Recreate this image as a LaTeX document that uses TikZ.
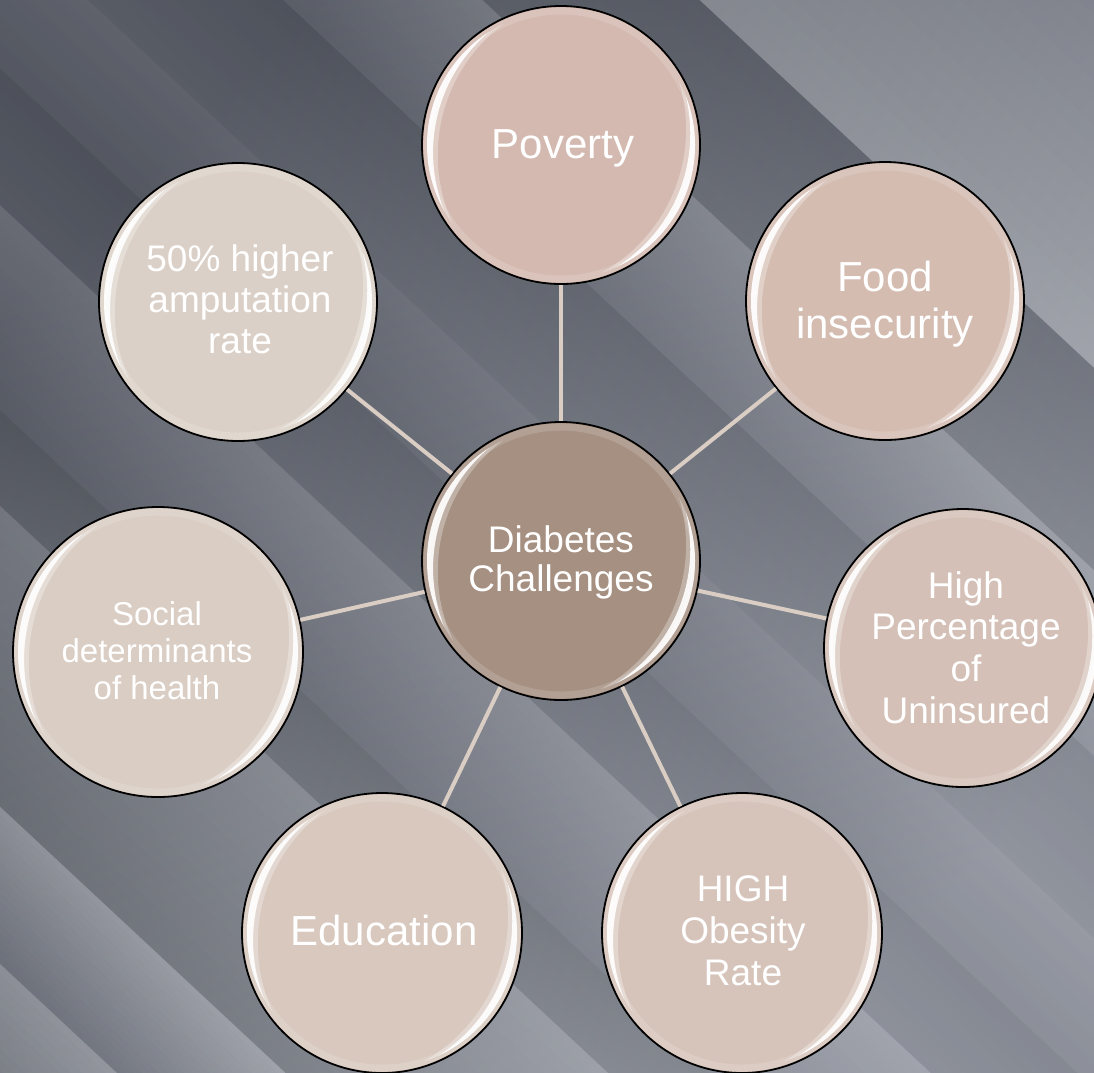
\documentclass[tikz,border=0pt]{standalone}
\usepackage{fontspec}
\setmainfont{Liberation Sans}
\usetikzlibrary{calc}
\definecolor{hubc}{HTML}{A69082}
\definecolor{povc}{HTML}{D3B9B0}
\definecolor{foodc}{HTML}{D4BCB1}
\definecolor{insc}{HTML}{D4C0B6}
\definecolor{obec}{HTML}{D6C4BA}
\definecolor{educ}{HTML}{D8C8BE}
\definecolor{socc}{HTML}{DACDC4}
\definecolor{ampc}{HTML}{DBD0C7}
\definecolor{connc}{HTML}{D9CDC4}
\newcommand\bgband[4]{%
  \foreach \k in {0,...,19}{%
    \pgfmathsetmacro\ua{#1+(#2-#1)*\k/20}%
    \pgfmathsetmacro\ub{#1+(#2-#1)*(\k+1)/20+1.5}%
    \pgfmathtruncatemacro\pc{100-\k*100/19}%
    \fill[#3!\pc!#4] (-40,\ua) rectangle (1600,\ub);
  }}
\newcommand\cres[6]{%
  \pgfmathsetmacro\crA{#2+1}\pgfmathsetmacro\crB{#2+#5}%
  \begin{scope}
    \clip (#1.center) circle (#2pt);
    \fill[white,opacity=#6,even odd rule] (#1.center) circle (\crA pt)
      ($(#1.center)+({#3+180}:#4pt)$) circle (\crB pt);
  \end{scope}}
\newcommand\glossy[2]{%
  \pgfmathsetmacro\gr{#2-5}%
  \draw[white,opacity=.15,line width=7pt] (#1.center) circle (\gr pt);
  \cres{#1}{\gr}{166}{42}{30}{.3}
  \cres{#1}{\gr}{166}{31}{24}{.9}
  \cres{#1}{\gr}{-22}{42}{30}{.3}
  \cres{#1}{\gr}{-22}{31}{24}{.9}}
\begin{document}
\begin{tikzpicture}[x=1pt,y=-1pt,
  bub/.style={circle,draw=black,line width=1.8pt,inner sep=0pt,minimum size=#1},
  conn/.style={draw=connc,line width=4pt},
  txt/.style={text=white,align=center,inner sep=0pt}]
\useasboundingbox (0,0) rectangle (1094,1072);
% background
\begin{scope}
\clip (0,0) rectangle (1094,1072);
\begin{scope}[rotate=-43]
\definecolor{b1a}{HTML}{7E828E}\definecolor{b1b}{HTML}{989CA6}
\definecolor{b2a}{HTML}{5E636F}\definecolor{b2b}{HTML}{6C717C}
\definecolor{b3a}{HTML}{8C909B}\definecolor{b3b}{HTML}{747985}
\definecolor{b4a}{HTML}{656A76}\definecolor{b4b}{HTML}{717682}
\definecolor{b5a}{HTML}{7A7E8A}\definecolor{b5b}{HTML}{6C717D}
\definecolor{b6a}{HTML}{636874}\definecolor{b6b}{HTML}{6D727E}
\definecolor{b7a}{HTML}{868A95}\definecolor{b7b}{HTML}{6D727E}
\definecolor{b8a}{HTML}{646973}\definecolor{b8b}{HTML}{6C717C}
\definecolor{b9a}{HTML}{8A8E99}\definecolor{b9b}{HTML}{70757F}
\definecolor{b10a}{HTML}{9CA0AA}\definecolor{b10b}{HTML}{6E737F}
\definecolor{b11a}{HTML}{9498A2}\definecolor{b11b}{HTML}{646973}
\bgband{-800}{-477}{b1a}{b1b}
\bgband{-477}{-329}{b2a}{b2b}
\bgband{-329}{-193}{b3a}{b3b}
\bgband{-193}{-60}{b4a}{b4b}
\bgband{-60}{50}{b5a}{b5b}
\bgband{50}{150}{b6a}{b6b}
\bgband{150}{300}{b7a}{b7b}
\bgband{300}{370}{b8a}{b8b}
\bgband{370}{590}{b9a}{b9b}
\bgband{590}{705}{b10a}{b10b}
\bgband{705}{860}{b11a}{b11b}
\end{scope}
\shade[top color=black,bottom color=white,shading angle=45,opacity=.22]
  (0,0) rectangle (1094,1072);
\end{scope}
% circles
\node[bub=278pt,fill=hubc] (hub) at (561,561) {};
\node[bub=278pt,fill=povc] (pov) at (561,145) {};
\node[bub=278pt,fill=foodc] (food) at (885,301) {};
\node[bub=278pt,fill=insc] (ins) at (963,648) {};
\node[bub=280pt,fill=obec] (obe) at (742,933) {};
\node[bub=280pt,fill=educ] (edu) at (382,933) {};
\node[bub=290pt,fill=socc] (soc) at (158,652) {};
\node[bub=278pt,fill=ampc] (amp) at (238,302) {};
% connectors
\foreach \n in {pov,food,ins,obe,edu,soc,amp}{\draw[conn] (hub) -- (\n);}
% gloss
\glossy{hub}{139}
\glossy{pov}{139}
\glossy{food}{139}
\glossy{ins}{139}
\glossy{obe}{140}
\glossy{edu}{140}
\glossy{soc}{145}
\glossy{amp}{139}
% texts
\node[txt,font=\fontsize{42}{47}\selectfont] (tpov) at (563,148.6) {Poverty\strut};
\node[txt,font=\fontsize{42}{46.5}\selectfont] (tfood) at (885,305.6) {Food\strut\\insecurity\strut};
\node[txt,font=\fontsize{37}{37}\selectfont] (thub) at (561,564.4) {Diabetes\strut\\Challenges\strut};
\node[txt,font=\fontsize{37}{41.7}\selectfont] (tins) at (966,652.2) {High\strut\\Percentage\strut\\of\strut\\Uninsured\strut};
\node[txt,font=\fontsize{37}{41.7}\selectfont] (tobe) at (743,935.1) {HIGH\strut\\Obesity\strut\\Rate\strut};
\node[txt,font=\fontsize{42}{47}\selectfont] (tedu) at (384,936.3) {Education\strut};
\node[txt,font=\fontsize{33}{37}\selectfont] (tsoc) at (157,654.6) {Social\strut\\determinants\strut\\of health\strut};
\node[txt,font=\fontsize{37}{41}\selectfont] (tamp) at (240,304.5) {50\% higher\strut\\amputation\strut\\rate\strut};
\end{tikzpicture}
\end{document}
